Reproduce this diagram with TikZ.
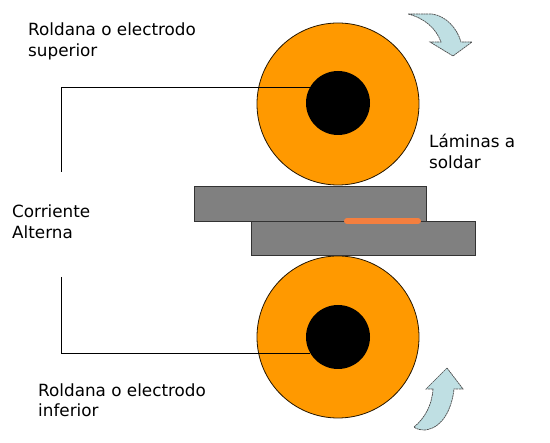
\documentclass[tikz,border=0pt]{standalone}
\usepackage{fontspec}
\setmainfont{DejaVu Sans}
\usetikzlibrary{positioning}
\definecolor{RO}{HTML}{FF9900}
\definecolor{PL}{HTML}{808080}
\definecolor{WD}{HTML}{F47F3F}
\definecolor{AR}{HTML}{BFDFE3}
\tikzset{
  roller/.style={draw=black!85!RO, fill=RO, circle, minimum size=162pt, inner sep=0pt, line width=0.8pt},
  hub/.style={fill=black, circle, minimum size=64pt, inner sep=0pt},
  plate/.style={draw=black!80, fill=PL, anchor=north west, inner sep=0pt, line width=0.9pt},
  label/.style={align=left, anchor=north west, inner sep=0pt, font=\fontsize{16.8}{20.5}\selectfont},
  wire/.style={draw=black, line width=0.7pt},
  turn/.style={draw=black!70, dashed, dash pattern=on 2pt off 0.6pt, fill=AR, line width=0.7pt}
}
\begin{document}
\begin{tikzpicture}[x=1pt,y=-1pt]
    \useasboundingbox (0,0) rectangle (550,443);

    \node[roller] (rolltop) at (338,104) {};
    \node[roller] (rollbot) at (338,337) {};
    \node[hub] (hubtop) at (338,103) {};
    \node[hub] (hubbot) at (338,337) {};

    \node[plate, minimum width=232pt, minimum height=35pt] (platetop) at (194,186) {};
    \node[plate, minimum width=224pt, minimum height=34pt] (platebot) at (251,221) {};
    \draw[WD, line width=6pt, line cap=round] (347,221) -- (418,221);

    \coordinate (wiretop) at (61,172);
    \coordinate (wirebot) at (61,277);
    \draw[wire] (wiretop) |- (hubtop.150);
    \draw[wire] (wirebot) |- (hubbot.210);

    % arrows
    \draw[turn] (408,14) -- (432,14) .. controls (446,16) and (457,28) .. (461,42)
      -- (472,42) -- (453,56) -- (430,42) -- (441,42)
      .. controls (436,28) and (424,18) .. (408,14) -- cycle;
    \draw[turn] (447,368) -- (463,389) -- (454,389)
      .. controls (452,408) and (443,428) .. (425,430)
      .. controls (420,430) and (416,429) .. (414,427)
      .. controls (425,418) and (432,405) .. (433,389) -- (426,389) -- cycle;

    \node[label] (lbltop) at (28,23) {Roldana o electrodo\\superior};
    \node[label] (lbllam) at (429,134) {Láminas a\\soldar};
    \node[label] (lblcur) at (12,205) {Corriente\\Alterna};
    \node[label] (lblbot) at (38,383.5) {Roldana o electrodo\\inferior};
  \end{tikzpicture}
\end{document}
